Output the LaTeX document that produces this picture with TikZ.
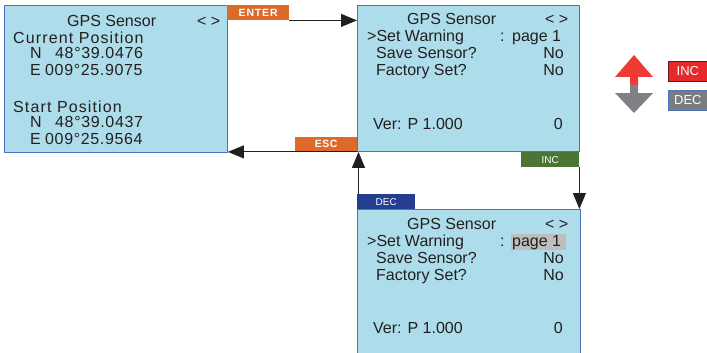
\documentclass[tikz,border=0pt]{standalone}
\usepackage{fontspec}
\setmainfont{Liberation Sans}
\usetikzlibrary{arrows.meta}
\definecolor{scr}{HTML}{ADDDEA}
\definecolor{scrb}{HTML}{4F72C0}
\definecolor{txt}{HTML}{231F20}
\definecolor{org}{HTML}{DD6A2A}
\definecolor{grn}{HTML}{4A7534}
\definecolor{blu}{HTML}{263E92}
\definecolor{redi}{HTML}{E8292B}
\definecolor{redb}{HTML}{6A1A1A}
\definecolor{redar}{HTML}{EE3B35}
\definecolor{gryi}{HTML}{7B7C80}
\definecolor{gryar}{HTML}{808185}
\definecolor{hil}{HTML}{BEBEBE}
\begin{document}
\begin{tikzpicture}[x=1pt,y=-1pt,
  screen/.style={draw=scrb, line width=0.9pt, fill=scr, inner sep=0pt, anchor=north west},
  tx/.style={anchor=base west, inner sep=0pt, text=txt, text height=11.5pt, text depth=1pt, font=\fontsize{16}{16}\selectfont},
  txr/.style={tx, anchor=base east},
  lbl/.style={inner sep=0pt, anchor=north west, text=white},
  arr/.style={draw=txt, line width=1pt, -{Triangle[length=16pt,width=13pt]}}]
\useasboundingbox (0,0) rectangle (707,353);
\clip (0,0) rectangle (707,353);
% screens
\node[screen, minimum width=223pt, minimum height=147pt] (box1) at (4,5) {};
\node[screen, minimum width=222pt, minimum height=146pt] (box2) at (357,5) {};
\node[screen, minimum width=223pt, minimum height=160pt] (box3) at (357,209) {};
% box 1 text
\node[tx] (b1t) at (67,26.5) {GPS Sensor};
\node[tx] (b1a) at (197,26.5) {< >};
\node[tx] (b1c) at (13,43.5) {\addfontfeatures{LetterSpace=7}Current Position};
\node[tx] (b1n1) at (30,58.5) {N};
\node[tx] (b1n1v) at (55,58.5) {\addfontfeatures{LetterSpace=4}48°39.0476};
\node[tx] (b1e1) at (30,75) {E};
\node[tx] (b1e1v) at (45,75) {\addfontfeatures{LetterSpace=4}009°25.9075};
\node[tx] (b1s) at (13,112) {\addfontfeatures{LetterSpace=7}Start Position};
\node[tx] (b1n2) at (30,127) {N};
\node[tx] (b1n2v) at (55,127) {\addfontfeatures{LetterSpace=4}48°39.0437};
\node[tx] (b1e2) at (30,144) {E};
\node[tx] (b1e2v) at (45,144) {\addfontfeatures{LetterSpace=4}009°25.9564};
% box 2 text
\node[tx] (b2t) at (407,25) {GPS Sensor};
\node[tx] (b2a) at (545,25) {< >};
\node[tx] (b2w) at (367,42) {>Set Warning};
\node[tx] (b2c) at (500,42) {:};
\node[tx] (b2p) at (512,42) {page 1};
\node[tx] (b2s) at (376,59) {Save Sensor?};
\node[txr] (b2sn) at (564,59) {No};
\node[tx] (b2f) at (376,76) {Factory Set?};
\node[txr] (b2fn) at (564,76) {No};
\node[tx] (b2v) at (373,129) {Ver: P 1.000};
\node[txr] (b2z) at (563,129) {0};
% box 3 text
\fill[hil] (511,234) rectangle (566,250);
\node[tx] (b3t) at (407,229) {GPS Sensor};
\node[tx] (b3a) at (545,229) {< >};
\node[tx] (b3w) at (367,246) {>Set Warning};
\node[tx] (b3c) at (500,246) {:};
\node[tx] (b3p) at (512,246) {page 1};
\node[tx] (b3s) at (376,263) {Save Sensor?};
\node[txr] (b3sn) at (564,263) {No};
\node[tx] (b3f) at (376,280) {Factory Set?};
\node[txr] (b3fn) at (564,280) {No};
\node[tx] (b3v) at (373,333) {Ver: P 1.000};
\node[txr] (b3z) at (563,333) {0};
% key labels
\node[lbl, fill=org, minimum width=62pt, minimum height=15pt, font=\fontsize{10.5}{10.5}\selectfont\bfseries\addfontfeatures{LetterSpace=8}] (enter) at (227,5) {ENTER};
\node[lbl, fill=org, minimum width=62pt, minimum height=14pt, font=\fontsize{10.5}{10.5}\selectfont\bfseries\addfontfeatures{LetterSpace=5}] (esc) at (295,137) {ESC};
\node[lbl, fill=grn, minimum width=58pt, minimum height=15pt, font=\fontsize{10}{10}\selectfont] (inc) at (521,152) {INC};
\node[lbl, fill=blu, minimum width=58pt, minimum height=15pt, font=\fontsize{10}{10}\selectfont] (dec) at (357,194) {DEC};
% connectors
\draw[arr] (enter.south east) -- (enter.south east -| box2.west);
\draw[arr] (box2.south west) -- (box2.south west -| box1.east);
\draw[arr] ([xshift=1.5pt]dec.north west) -- ([xshift=1.5pt]dec.north west |- box2.south);
\draw[arr] (inc.south east) -- (inc.south east |- box3.north);
% legend
\fill[redar] (634,55) -- (653,77) -- (638,77) -- (638,85) -- (630,85) -- (630,77) -- (615,77) -- cycle;
\fill[gryar] (630,85) -- (638,85) -- (638,93) -- (653,93) -- (634,113) -- (615,93) -- (630,93) -- cycle;
\node[lbl, fill=redi, draw=redb, line width=0.8pt, minimum width=39pt, minimum height=20pt, font=\fontsize{13}{13}\selectfont] (linc) at (668,61) {INC};
\node[lbl, fill=gryi, draw=scrb, line width=0.8pt, minimum width=39pt, minimum height=20pt, font=\fontsize{13}{13}\selectfont] (ldec) at (668,90) {DEC};
\end{tikzpicture}
\end{document}
